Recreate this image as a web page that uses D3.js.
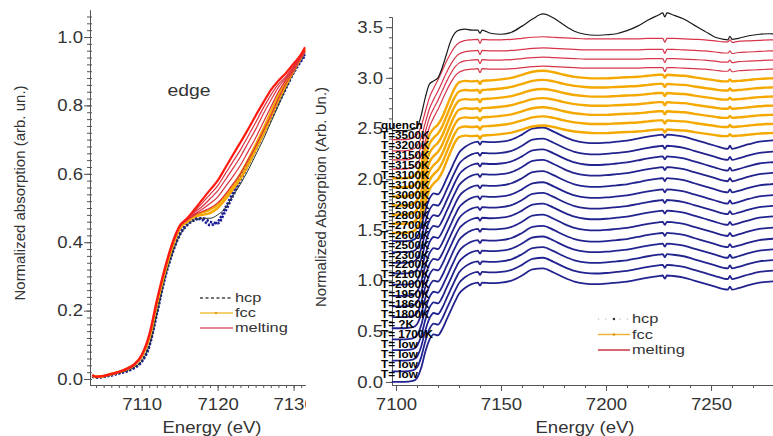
<!DOCTYPE html>
<html><head><meta charset="utf-8">
<script src="https://cdn.jsdelivr.net/npm/d3@7"></script>
<style>body{margin:0;background:#fff}svg{display:block}text{font-family:"Liberation Sans",Arial,sans-serif}</style>
</head><body><svg id="c" width="773" height="436"></svg>
<script>
// ---------- LEFT PANEL DATA (edge region) ----------
const energyLeft = [7103.5,7104,7105,7106,7107,7108,7109,7110,7111,7112,7113,7114,7115,7116,7117,7118,7119,7120,7121,7122,7123,7124,7125,7126,7127,7128,7129,7130,7131,7131.5];
const hcpLeftA = [0.008,0.004,0.006,0.012,0.016,0.022,0.032,0.05,0.095,0.19,0.29,0.365,0.42,0.45,0.465,0.47,0.46,0.455,0.49,0.535,0.58,0.625,0.67,0.715,0.76,0.805,0.85,0.895,0.93,0.945];
const hcpLeftB = [0.01,0.006,0.008,0.01,0.018,0.024,0.034,0.052,0.1,0.195,0.295,0.37,0.425,0.455,0.47,0.465,0.45,0.46,0.5,0.545,0.59,0.635,0.68,0.725,0.77,0.815,0.86,0.9,0.935,0.95];
const hcpLeftRef = [0.008,0.005,0.007,0.012,0.017,0.024,0.034,0.052,0.098,0.19,0.29,0.365,0.42,0.45,0.465,0.47,0.47,0.48,0.5,0.535,0.57,0.61,0.655,0.7,0.75,0.8,0.85,0.895,0.935,0.955];
const fccLeftA = [0.01,0.006,0.008,0.014,0.02,0.028,0.04,0.065,0.12,0.22,0.31,0.385,0.44,0.46,0.475,0.48,0.485,0.5,0.525,0.555,0.585,0.625,0.67,0.715,0.765,0.815,0.86,0.9,0.94,0.96];
const fccLeftB = [0.01,0.007,0.009,0.015,0.021,0.03,0.042,0.066,0.12,0.22,0.31,0.385,0.44,0.462,0.478,0.487,0.495,0.51,0.535,0.565,0.6,0.64,0.685,0.73,0.78,0.83,0.87,0.91,0.945,0.965];
const meltLeft1 = [0.01,0.006,0.008,0.014,0.02,0.028,0.04,0.068,0.125,0.225,0.315,0.39,0.445,0.465,0.48,0.49,0.5,0.515,0.54,0.57,0.6,0.64,0.68,0.725,0.77,0.82,0.865,0.9,0.94,0.955];
const meltLeft2 = [0.01,0.006,0.008,0.014,0.02,0.028,0.04,0.068,0.125,0.225,0.315,0.39,0.445,0.465,0.483,0.497,0.513,0.532,0.562,0.592,0.625,0.665,0.705,0.75,0.795,0.84,0.875,0.905,0.942,0.958];
const meltLeft3 = [0.01,0.006,0.008,0.014,0.02,0.028,0.04,0.068,0.125,0.225,0.315,0.39,0.445,0.468,0.488,0.505,0.527,0.55,0.582,0.615,0.65,0.69,0.73,0.775,0.815,0.853,0.88,0.91,0.944,0.96];
const meltLeft4 = [0.01,0.006,0.008,0.014,0.02,0.028,0.04,0.068,0.125,0.225,0.315,0.39,0.445,0.47,0.492,0.515,0.54,0.565,0.6,0.635,0.67,0.71,0.75,0.792,0.83,0.862,0.885,0.915,0.947,0.963];
const meltLeft5 = [0.012,0.007,0.009,0.015,0.021,0.03,0.043,0.07,0.13,0.23,0.32,0.395,0.448,0.47,0.497,0.525,0.553,0.58,0.617,0.655,0.692,0.73,0.77,0.808,0.845,0.872,0.895,0.922,0.95,0.97];
const leftXTicks = [7110,7120,7130];
const leftYTicks = [0,0.2,0.4,0.6,0.8,1.0];

// ---------- RIGHT PANEL DATA (stacked spectra) ----------
const energyRight = [7098,7104,7108,7110,7112,7114,7116,7118,7120,7122,7124,7126,7128,7130,7133,7136,7139,7140,7141,7145,7150,7155,7160,7165,7170,7175,7180,7185,7190,7195,7200,7205,7210,7215,7220,7225,7227,7228,7229,7232,7237,7242,7247,7252,7256,7258,7259,7260,7263,7268,7273,7278,7284];
const hcpShape = [0,0,0.01,0.04,0.14,0.3,0.42,0.47,0.46,0.52,0.61,0.7,0.79,0.87,0.93,0.965,0.98,0.95,0.98,0.975,0.98,1.0,1.05,1.11,1.12,1.08,1.03,0.99,0.97,0.965,0.97,0.98,0.99,1.01,1.03,1.045,1.05,1.02,1.05,1.045,1.03,1.0,0.97,0.94,0.915,0.91,0.94,0.91,0.925,0.955,0.98,0.99,1.0];
const fccShape = [0,0,0.015,0.05,0.14,0.3,0.43,0.49,0.53,0.6,0.7,0.8,0.89,0.945,0.96,0.955,0.96,0.93,0.96,0.965,0.975,0.99,1.02,1.05,1.06,1.045,1.02,1.0,0.99,0.985,0.985,0.99,0.995,1.0,1.01,1.02,1.02,0.99,1.02,1.015,1.01,0.995,0.98,0.965,0.955,0.955,0.975,0.955,0.96,0.97,0.98,0.985,0.99];
const meltShape = [0,0,0.015,0.05,0.13,0.28,0.42,0.51,0.59,0.68,0.77,0.85,0.915,0.955,0.978,0.985,0.99,0.95,0.99,0.985,0.985,0.99,1.0,1.01,1.015,1.01,1.005,1.0,0.995,0.995,0.995,0.995,0.995,0.995,1.0,1.0,1.0,0.96,1.0,1.0,0.995,0.99,0.985,0.975,0.965,0.965,0.985,0.96,0.97,0.975,0.98,0.985,0.985];
const quenchShape = [0,0,0.01,0.03,0.15,0.33,0.46,0.49,0.52,0.62,0.75,0.88,0.96,0.99,1.0,0.99,0.99,0.96,0.99,0.96,0.95,0.97,1.03,1.1,1.15,1.11,1.04,0.98,0.95,0.94,0.945,0.955,0.985,1.03,1.09,1.14,1.16,1.12,1.16,1.14,1.1,1.04,0.98,0.92,0.9,0.895,0.93,0.9,0.91,0.935,0.95,0.955,0.95];
const rightLabels = ["T= low","T= low","T= low","T= low","T= 1700K","T= ?K","T=1800K","T=1860K","T=1950K","T=2000K","T=2100K","T=2200K","T=2300K","T=2500K","T=2600K","T=2700K","T=2800K","T=2900K","T=3000K","T=3100K","T=3100K","T=3150K","T=3150K","T=3200K","T=3500K","quench"];
const rightPhase = ["hcp","hcp","hcp","hcp","hcp","hcp","hcp","hcp","hcp","hcp","hcp","hcp","hcp","hcp","fcc","fcc","fcc","fcc","fcc","fcc","fcc","melt","melt","melt","melt","quench"];
const rightOffsets = [0,0.105,0.21,0.315,0.42,0.53,0.64,0.745,0.85,0.96,1.07,1.175,1.28,1.39,1.47,1.56,1.65,1.74,1.83,1.92,2.01,2.1,2.19,2.28,2.39,2.48];
const rightXTicks = [7100,7150,7200,7250];
const rightYTicks = [0,0.5,1.0,1.5,2.0,2.5,3.0,3.5];
const legendNames = ["hcp","fcc","melting"];

// ---------- DRAWING ----------
const svg = d3.select("#c");
const SX = 1.14;
const TXT = "#333", AX = "#555";
function stretch(sel, sx){ sel.each(function(){ const t=d3.select(this); const x=+t.attr("x")||0; t.attr("x", x/sx).attr("transform", `scale(${sx},1)`); }); }

const shapes = {hcp:hcpShape, fcc:fccShape, melt:meltShape, quench:quenchShape};
const colors = {hcp:"#23238f", fcc:"#f5a800", melt:"#d8354a", quench:"#1a1a1a"};
const widths = {hcp:1.8, fcc:2.4, melt:1.2, quench:1.2};

// LEFT
svg.append("clipPath").attr("id","lclip").append("rect").attr("x",0).attr("y",0).attr("width",306).attr("height",436);
const L = svg.append("g").attr("clip-path","url(#lclip)");
const xL = d3.scaleLinear().domain([7103.2,7131.5]).range([90,305]);
const yL = d3.scaleLinear().domain([-0.0175,1.079]).range([385,10]);
const lineL = d3.line().x(d=>xL(d[0])).y(d=>yL(d[1])).curve(d3.curveMonotoneX);
const pairL = arr => energyLeft.map((e,i)=>[e,arr[i]]);

function drawAxis(g, axis){
  g.call(axis);
  g.selectAll("path.domain").attr("stroke",AX).attr("stroke-width",1);
  g.selectAll(".tick line").attr("stroke",AX).attr("stroke-width",1);
  g.selectAll("text").attr("fill",TXT).style("font-size","16.3px").style("font-family","Liberation Sans, Arial, sans-serif");
}
drawAxis(L.append("g").attr("transform","translate(0,385)"), d3.axisBottom(xL).tickValues(d3.range(7104,7132,1)).tickSize(3).tickSizeOuter(0).tickFormat(""));
drawAxis(L.append("g").attr("transform","translate(90,0)"), d3.axisLeft(yL).tickValues(d3.range(0,1.07,0.02)).tickSize(3).tickSizeOuter(0).tickFormat(""));
drawAxis(L.append("g").attr("transform","translate(90,0)"), d3.axisRight(yL).tickValues(d3.range(0,1.07,0.02)).tickSize(2).tickSizeOuter(0).tickFormat(""));
const lxa = L.append("g").attr("transform","translate(0,385)");
drawAxis(lxa, d3.axisBottom(xL).tickValues(leftXTicks).tickSize(6).tickSizeOuter(0).tickPadding(7).tickFormat(d3.format("d")));
stretch(lxa.selectAll("text"), SX);
const lya = L.append("g").attr("transform","translate(90,0)");
drawAxis(lya, d3.axisLeft(yL).tickValues(leftYTicks).tickSize(6).tickSizeOuter(0).tickPadding(1).tickFormat(d3.format(".1f")));
stretch(lya.selectAll("text"), SX);

const lc = L.append("g").attr("fill","none");
[hcpLeftA, hcpLeftB].forEach(a=>lc.append("path").attr("d",lineL(pairL(a))).attr("stroke","#1e1e96").attr("stroke-width",2.6).attr("stroke-dasharray","2.2,1.6"));
lc.append("path").attr("d",lineL(pairL(hcpLeftRef))).attr("stroke","#2a3a2a").attr("stroke-width",1);
[fccLeftA, fccLeftB].forEach(a=>lc.append("path").attr("d",lineL(pairL(a))).attr("stroke","#f5a800").attr("stroke-width",2.4));
[meltLeft1, meltLeft2, meltLeft3, meltLeft4].forEach(a=>lc.append("path").attr("d",lineL(pairL(a))).attr("stroke","#dc3040").attr("stroke-width",1.2));
lc.append("path").attr("d",lineL(pairL(meltLeft5))).attr("stroke","#ff1a10").attr("stroke-width",2.2);

const edgeT = L.append("text").attr("x",189).attr("y",96).attr("text-anchor","middle").attr("fill",TXT).style("font-size","17px").text("edge");
stretch(edgeT, SX);
const lt = L.append("text").attr("x",212).attr("y",433).attr("text-anchor","middle").attr("fill",TXT).style("font-size","16.3px").text("Energy (eV)");
stretch(lt, SX);
svg.append("text").attr("transform","translate(25,193) rotate(-90)").attr("text-anchor","middle").attr("fill",TXT).style("font-size","15px").text("Normalized absorption (arb. un.)");

const LEGFS = "13px", LEGSX = 1.26;
const legL = L.append("g");
const legLY = [298,313,328];
legL.append("line").attr("x1",200).attr("x2",233).attr("y1",legLY[0]).attr("y2",legLY[0]).attr("stroke","#444").attr("stroke-width",1.4).attr("stroke-dasharray","3,2.5");
legL.append("line").attr("x1",200).attr("x2",233).attr("y1",legLY[1]).attr("y2",legLY[1]).attr("stroke","#f0c040").attr("stroke-width",1.4);
legL.append("circle").attr("cx",216).attr("cy",legLY[1]).attr("r",1.3).attr("fill","#e0a020");
legL.append("line").attr("x1",200).attr("x2",233).attr("y1",legLY[2]).attr("y2",legLY[2]).attr("stroke","#e06070").attr("stroke-width",1.6);
legendNames.forEach((n,i)=>{ const t=legL.append("text").attr("x",235).attr("y",legLY[i]+4.5).attr("fill",TXT).style("font-size",LEGFS).text(n); stretch(t,LEGSX); });

// RIGHT
const R = svg.append("g");
const xR = d3.scaleLinear().domain([7098.1,7279.5]).range([392,773]);
const yR = d3.scaleLinear().domain([-0.03,3.6]).range([385,17]);
const lineR = d3.line().x(d=>xR(d[0])).y(d=>yR(d[1])).curve(d3.curveMonotoneX);

drawAxis(R.append("g").attr("transform","translate(0,385)"), d3.axisBottom(xR).tickValues(d3.range(7100,7290,10)).tickSize(3).tickSizeOuter(0).tickFormat(""));
drawAxis(R.append("g").attr("transform","translate(392,0)"), d3.axisLeft(yR).tickValues(d3.range(0,3.61,0.1)).tickSize(3).tickSizeOuter(0).tickFormat(""));
const rxa = R.append("g").attr("transform","translate(0,385)");
drawAxis(rxa, d3.axisBottom(xR).tickValues(rightXTicks).tickSize(6).tickSizeOuter(0).tickPadding(7).tickFormat(d3.format("d")));
stretch(rxa.selectAll("text"), SX);
const rya = R.append("g").attr("transform","translate(392,0)");
drawAxis(rya, d3.axisLeft(yR).tickValues(rightYTicks).tickSize(6).tickSizeOuter(0).tickPadding(3).tickFormat(d3.format(".1f")));
stretch(rya.selectAll("text"), SX);

const rc = R.append("g").attr("fill","none");
rightOffsets.forEach((off,i)=>{
  const ph = rightPhase[i];
  const sh = shapes[ph];
  rc.append("path").attr("d", lineR(energyRight.map((e,j)=>[e, sh[j]+off])))
    .attr("stroke", colors[ph]).attr("stroke-width", widths[ph]);
});
const labelStep = 0.0986;
rightLabels.forEach((lab,i)=>{
  const t = R.append("text").attr("x",381).attr("y",yR(i*labelStep)-3.5).attr("fill","#000").style("font-size","10.5px").style("font-weight","bold").text(lab);
  stretch(t,1.12);
});

const rt = R.append("text").attr("x",585).attr("y",433).attr("text-anchor","middle").attr("fill",TXT).style("font-size","16.3px").text("Energy (eV)");
stretch(rt,SX);
svg.append("text").attr("transform","translate(326,197) rotate(-90)").attr("text-anchor","middle").attr("fill",TXT).style("font-size","15px").text("Normalized Absorption (Arb. Un.)");

const legR = R.append("g");
const legRY = [319,334.5,350];
legR.append("line").attr("x1",598).attr("x2",630).attr("y1",legRY[0]).attr("y2",legRY[0]).attr("stroke","#aaa").attr("stroke-width",1.2).attr("stroke-dasharray","1.2,6");
legR.append("circle").attr("cx",614).attr("cy",legRY[0]).attr("r",1.2).attr("fill","#333");
legR.append("line").attr("x1",598).attr("x2",630).attr("y1",legRY[1]).attr("y2",legRY[1]).attr("stroke","#f0b030").attr("stroke-width",1.4);
legR.append("circle").attr("cx",614).attr("cy",legRY[1]).attr("r",1.3).attr("fill","#e09a10");
legR.append("line").attr("x1",598).attr("x2",630).attr("y1",legRY[2]).attr("y2",legRY[2]).attr("stroke","#d04050").attr("stroke-width",1.6);
legendNames.forEach((n,i)=>{ const t=legR.append("text").attr("x",632).attr("y",legRY[i]+4.5).attr("fill",TXT).style("font-size",LEGFS).text(n); stretch(t,LEGSX); });
</script></body></html>
